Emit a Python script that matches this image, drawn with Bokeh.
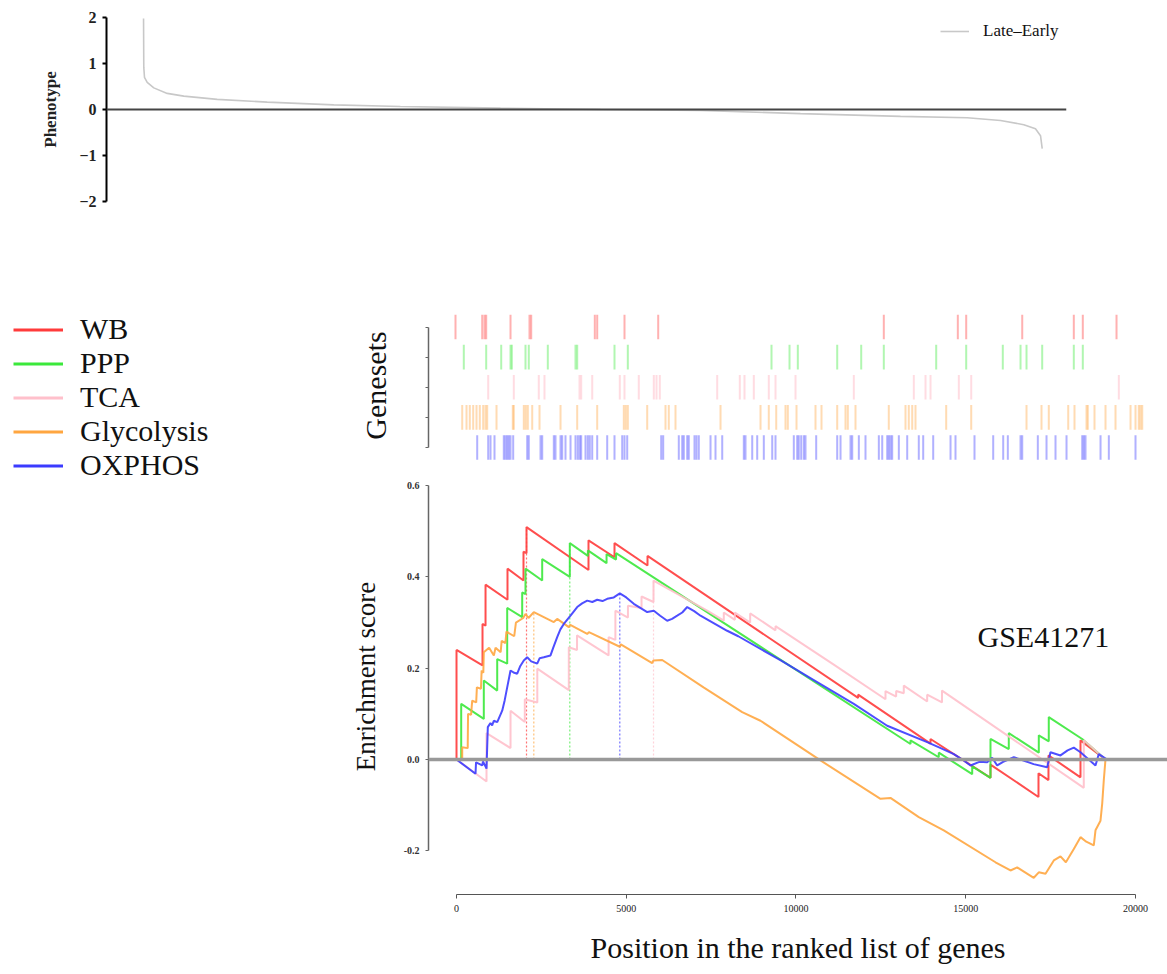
from bokeh.plotting import figure
from bokeh.models import (Range1d, FixedTicker, Span, Legend, LegendItem, Label,
                          PrintfTickFormatter)
from bokeh.layouts import column, row
from bokeh.embed import file_html
from bokeh.resources import INLINE

SERIF = "Liberation Serif"

# ---------------- data ----------------
# ranked-list phenotype (Late-Early)
pheno_rank = [1, 6, 21, 79, 219, 504, 856, 1566, 2628, 4043, 5460, 7585, 9710,
              11834, 13959, 16083, 17500, 18208, 18703, 18951, 19058, 19094]
pheno_value = [1.98, 0.92, 0.70, 0.59, 0.47, 0.35, 0.29, 0.22, 0.16, 0.10, 0.065,
               0.03, 0.0, -0.02, -0.09, -0.15, -0.18, -0.24, -0.33, -0.42, -0.57, -0.85]

set_names = ["WB", "PPP", "TCA", "Glycolysis", "OXPHOS"]
set_colors = ["#ff3b3b", "#3be83b", "#ffc0cb", "#ffa640", "#3b3bff"]

# running enrichment scores
wb_rank = [0, 0, 766, 766, 855, 855, 1502, 1502, 1973, 1973, 2062, 2062, 3888, 3888,
           4654, 4654, 5626, 5626, 11830, 11830, 13962, 13962, 15729, 15729, 17143,
           17143, 17437, 17437, 18380, 18380, 19116]
wb_es = [0, 0.240, 0.206, 0.297, 0.293, 0.383, 0.350, 0.418, 0.392, 0.455, 0.452,
         0.509, 0.415, 0.480, 0.443, 0.474, 0.425, 0.446, 0.135, 0.142, 0.035, 0.045,
         -0.040, -0.011, -0.082, -0.030, -0.045, 0.009, -0.039, 0.042, 0.0]

ppp_rank = [0, 138, 138, 804, 804, 1199, 1199, 1493, 1493, 1935, 1935, 2032, 2032,
            2524, 2524, 3337, 3337, 3870, 3870, 4420, 4420, 4700, 4700, 13373, 13373,
            14206, 14206, 15190, 15190, 15729, 15729, 16268, 16268, 17152, 17152,
            17446, 17446, 18430, 19116]
ppp_es = [0, 0, 0.122, 0.089, 0.173, 0.151, 0.220, 0.210, 0.332, 0.312, 0.366, 0.362,
          0.418, 0.392, 0.439, 0.400, 0.474, 0.446, 0.458, 0.430, 0.450, 0.438, 0.452,
          0.034, 0.042, 0.005, 0.015, -0.032, -0.015, -0.040, 0.045, 0.023, 0.058,
          0.015, 0.053, 0.040, 0.093, 0.045, 0.0]

tca_rank = [0, 884, 884, 1591, 1591, 2012, 2012, 2380, 2380, 3308, 3308, 3550, 3550,
            4480, 4480, 4680, 4680, 5050, 5050, 5450, 5450, 5803, 5803, 7384, 7873,
            7873, 8200, 8200, 8650, 8650, 9396, 9396, 11113, 12636, 12636, 12950,
            12950, 13175, 13175, 13864, 13864, 14300, 14300, 18477, 18477, 19116]
tca_es = [0, -0.048, 0.058, 0.025, 0.107, 0.082, 0.132, 0.125, 0.199, 0.152, 0.246,
          0.240, 0.272, 0.228, 0.268, 0.262, 0.326, 0.311, 0.337, 0.332, 0.357, 0.345,
          0.392, 0.326, 0.304, 0.322, 0.306, 0.322, 0.300, 0.320, 0.283, 0.292, 0.208,
          0.132, 0.150, 0.138, 0.150, 0.145, 0.162, 0.127, 0.142, 0.125, 0.151,
          -0.062, 0.042, 0.0]

gly_rank = [0, 168, 168, 330, 340, 430, 462, 580, 600, 720, 740, 790, 804, 960, 1100,
            1150, 1300, 1330, 1440, 1470, 1700, 1750, 1965, 2032, 2120, 2277, 2866,
            2966, 3308, 3350, 3850, 3900, 4810, 4840, 5764, 5800, 6059, 7277, 8415,
            8954, 10722, 12489, 12783, 13617, 14353, 15876, 16318, 16515, 17004,
            17152, 17350, 17594, 17791, 17950, 18183, 18380, 18550, 18772, 18822,
            18969, 19019, 19066, 19116]
gly_es = [0, 0, 0.027, 0.025, 0.100, 0.098, 0.129, 0.125, 0.158, 0.155, 0.195, 0.190,
          0.235, 0.245, 0.228, 0.245, 0.235, 0.260, 0.255, 0.280, 0.270, 0.300, 0.310,
          0.319, 0.310, 0.323, 0.301, 0.308, 0.290, 0.295, 0.275, 0.279, 0.247, 0.252,
          0.211, 0.217, 0.218, 0.158, 0.104, 0.085, -0.002, -0.086, -0.084, -0.126,
          -0.155, -0.225, -0.243, -0.236, -0.259, -0.247, -0.250, -0.221, -0.212,
          -0.225, -0.196, -0.170, -0.180, -0.188, -0.155, -0.134, -0.097, -0.046, 0.0]

ox_rank = [0, 560, 575, 757, 780, 884, 922, 1000, 1050, 1099, 1200, 1346, 1420, 1493,
           1591, 1700, 1788, 1880, 1982, 2082, 2200, 2377, 2450, 2571, 2769, 2850,
           2966, 3060, 3161, 3358, 3555, 3700, 3850, 4000, 4144, 4300, 4439, 4633,
           4810, 5000, 5222, 5617, 5812, 6000, 6206, 6350, 6501, 6650, 6795, 7000,
           7187, 7973, 8300, 9552, 10500, 11703, 12686, 13864, 14197, 14648, 14900,
           15140, 15400, 15632, 15779, 15926, 16100, 16416, 16700, 17000, 17399,
           17496, 17791, 18000, 18183, 18380, 18822, 18919, 19166]
ox_es = [0, -0.031, -0.006, -0.013, -0.004, -0.020, 0.071, 0.080, 0.075, 0.085, 0.082,
         0.107, 0.130, 0.158, 0.195, 0.190, 0.188, 0.205, 0.217, 0.224, 0.215, 0.210,
         0.222, 0.224, 0.228, 0.245, 0.268, 0.285, 0.297, 0.315, 0.334, 0.342, 0.348,
         0.345, 0.350, 0.347, 0.352, 0.355, 0.364, 0.355, 0.341, 0.323, 0.326, 0.315,
         0.304, 0.308, 0.315, 0.322, 0.334, 0.325, 0.315, 0.282, 0.270, 0.217, 0.175,
         0.122, 0.074, 0.038, 0.027, 0.012, 0.0, -0.013, -0.005, -0.006, 0.004,
         -0.013, -0.005, 0.005, -0.002, -0.010, -0.017, 0.016, 0.009, 0.020, 0.026,
         0.016, -0.013, 0.012, 0.0]

# positions of the gene-set members in the ranked list (geneset panel)
wb_hits = [0, 740, 803, 850, 1524, 2050, 2097, 3859, 3925, 4681, 5615, 11864, 13914,
           14146, 15698, 17127, 17376, 18310]
ppp_hits = [230, 850, 1266, 1524, 1560, 1939, 2030, 2557, 3324, 3371, 4404, 4773, 8753,
            9252, 9482, 10573, 11238, 11864, 13315, 14146, 15160, 15651, 15817, 16251,
            17127, 17376]
tca_hits = [906, 1615, 2307, 2465, 3435, 3482, 3787, 4551, 4681, 5077, 5493, 5568, 5659,
            7249, 7875, 8005, 8263, 8678, 8864, 9418, 11033, 12695, 13019, 13158, 13942,
            14285, 18374]
gly_hits = [186, 305, 396, 490, 582, 673, 767, 831, 878, 1136, 1587, 1615, 1892, 1947,
            2003, 2125, 2327, 2909, 3371, 3925, 4662, 4717, 4773, 5310, 5817, 5908, 6094,
            7341, 8449, 8678, 8884, 9141, 9205, 9446, 9972, 10138, 10573, 10803, 10867,
            11080, 12002, 12465, 12556, 12651, 12742, 13592, 14285, 15817, 16232, 16434,
            16972, 17146, 17479, 17515, 17700, 18005, 18282, 18698, 18836, 18927, 18975,
            19022]
ox_hits = [601, 906, 970, 1080, 1338, 1385, 1432, 1476, 1524, 1598, 1986, 2030, 2355,
           2402, 2723, 2770, 2909, 2955, 3047, 3186, 3324, 3388, 3443, 3482, 3601, 3665,
           3720, 3787, 3925, 4202, 4404, 4618, 4681, 4756, 5698, 5753, 6185, 6280, 6324,
           6418, 6462, 6620, 6676, 6739, 7064, 7202, 7388, 7986, 8033, 8219, 8357, 8540,
           8773, 8864, 9371, 9465, 9509, 9576, 9648, 9695, 9991, 10573, 10665, 10942,
           10989, 11172, 11357, 11726, 11820, 11958, 12002, 12050, 12096, 12280, 12512,
           12833, 12955, 13232, 13712, 13850, 14376, 14894, 15171, 15299, 15651, 15698,
           16130, 16371, 16620, 16925, 17360, 17404, 17451, 17867, 18097, 18836]

dataset_name = "GSE41271"
es_ticks = [-0.2, 0.0, 0.2, 0.4, 0.6]
rank_ticks = [0, 5000, 10000, 15000, 20000]
pheno_ticks = [-2, -1, 0, 1, 2]

es_series = [(wb_rank, wb_es), (ppp_rank, ppp_es), (tca_rank, tca_es),
             (gly_rank, gly_es), (ox_rank, ox_es)]
hit_series = [wb_hits, ppp_hits, tca_hits, gly_hits, ox_hits]


def clean(p):
    p.outline_line_color = None
    p.background_fill_color = "white"
    p.border_fill_color = "white"
    p.grid.visible = False


# ---------------- top: phenotype panel ----------------
top = figure(width=1167, height=218, x_range=Range1d(-786, 19610), y_range=Range1d(-2, 2),
             x_axis_location=None, output_backend="svg", toolbar_location=None,
             min_border_left=106, min_border_right=101, min_border_top=17, min_border_bottom=17)
clean(top)
top.add_layout(Span(location=0, dimension="width", line_color="#444444", line_width=2))
pr = top.line(pheno_rank, pheno_value, line_color="#c8c8c8", line_width=1.6)
ya = top.yaxis[0]
ya.ticker = FixedTicker(ticks=pheno_ticks)
ya.major_label_overrides = {-2: "\u22122", -1: "\u22121", 0: "0", 1: "1", 2: "2"}
ya.axis_line_color = "black"
ya.axis_line_width = 2
ya.major_tick_line_color = "black"
ya.major_tick_line_width = 2
ya.major_tick_out = 4
ya.major_tick_in = 0
ya.minor_tick_line_color = None
ya.major_label_standoff = 6
ya.major_label_text_font = SERIF
ya.major_label_text_font_size = "16px"
ya.major_label_text_font_style = "bold"
ya.major_label_text_color = "#222222"
ya.axis_label = "Phenotype"
ya.axis_label_text_font = SERIF
ya.axis_label_text_font_size = "17px"
ya.axis_label_text_font_style = "bold"
ya.axis_label_text_color = "#222222"
ya.axis_label_standoff = 16
top_leg = Legend(items=[LegendItem(label="Late\u2013Early", renderers=[pr])],
                 location=(834, 160), padding=0, margin=0, border_line_color=None,
                 background_fill_alpha=0, glyph_width=29, glyph_height=20,
                 label_standoff=14, label_text_font=SERIF, label_text_font_size="17px",
                 label_text_color="#111111")
top.add_layout(top_leg)

# ---------------- legend panel ----------------
leg = figure(width=338, height=748, x_range=Range1d(-3e5, -2e5), y_range=Range1d(-1, 1),
             x_axis_type=None, y_axis_type=None, output_backend="svg",
             toolbar_location=None, min_border=0)
clean(leg)
items = []
for name, col, (xs, ys) in zip(set_names, set_colors, es_series):
    r = leg.line(xs, ys, line_color=col, line_width=3)
    items.append(LegendItem(label=name, renderers=[r]))
leg.add_layout(Legend(items=items, location=(13, 484), padding=0, margin=0,
                      border_line_color=None, background_fill_alpha=0, spacing=0,
                      glyph_width=50, glyph_height=33, label_height=33,
                      label_standoff=17, label_text_font=SERIF,
                      label_text_font_size="30px", label_text_color="#111111"))

# ---------------- geneset panel ----------------
nrows = len(set_names)
gs = figure(width=829, height=252, x_range=Range1d(-748, 19722), y_range=Range1d(0.369, 5.747),
            x_axis_location=None, output_backend="svg", toolbar_location=None,
            min_border_left=90, min_border_right=0, min_border_top=86, min_border_bottom=4)
clean(gs)
for i, (hits, col) in enumerate(zip(hit_series, set_colors)):
    yrow = nrows - i
    gs.segment(x0=hits, y0=[yrow - 0.41] * len(hits), x1=hits, y1=[yrow + 0.41] * len(hits),
               line_color=col, line_width=2, line_alpha=0.4 if col != "#ffc0cb" else 0.55)
ga = gs.yaxis[0]
ga.ticker = FixedTicker(ticks=list(range(1, nrows + 1)))
ga.major_label_overrides = {k: "" for k in range(1, nrows + 1)}
ga.bounds = (1, nrows)
ga.axis_line_color = "#666666"
ga.axis_line_width = 1.5
ga.major_tick_line_color = "#666666"
ga.major_tick_out = 3
ga.major_tick_in = 0
ga.minor_tick_line_color = None
ga.axis_label = "Genesets"
ga.axis_label_text_font = SERIF
ga.axis_label_text_font_size = "30px"
ga.axis_label_text_font_style = "normal"
ga.axis_label_text_color = "#111111"
ga.axis_label_standoff = 34

# ---------------- enrichment panel ----------------
shared_x = Range1d(-825, 20943)
es = figure(width=829, height=412, x_range=shared_x, y_range=Range1d(-0.2693, 0.633),
            x_axis_location=None, output_backend="svg", toolbar_location=None,
            min_border_left=90, min_border_right=0, min_border_top=0, min_border_bottom=0)
clean(es)
es.add_layout(Span(location=0, dimension="width", line_color="#999999", line_width=3.5))
for (xs, ys), col in zip(es_series, set_colors):
    k = max(range(len(ys)), key=lambda j: ys[j])
    es.segment(x0=[xs[k]], y0=[0], x1=[xs[k]], y1=[ys[k]], line_color=col,
               line_width=1.2, line_dash="2 2", line_alpha=0.7)
for (xs, ys), col in zip(es_series, set_colors):
    es.line(xs, ys, line_color=col, line_width=2, line_alpha=0.9)

ey = es.yaxis[0]
ey.ticker = FixedTicker(ticks=es_ticks)
ey.formatter = PrintfTickFormatter(format="%.1f")
ey.bounds = (es_ticks[0], es_ticks[-1])
ey.axis_line_color = "#666666"
ey.axis_line_width = 1.5
ey.major_tick_line_color = "#666666"
ey.major_tick_out = 3
ey.major_tick_in = 0
ey.minor_tick_line_color = None
ey.major_label_standoff = 6
ey.major_label_text_font = SERIF
ey.major_label_text_font_size = "10px"
ey.major_label_text_font_style = "bold"
ey.major_label_text_color = "#333333"
ey.axis_label = "Enrichment score"
ey.axis_label_text_font = SERIF
ey.axis_label_text_font_size = "27px"
ey.axis_label_text_font_style = "normal"
ey.axis_label_text_color = "#111111"
ey.axis_label_standoff = 20

es.add_layout(Label(x=15346, y=0.269, text=dataset_name, text_font=SERIF,
                    text_font_size="30px", text_baseline="middle", text_color="#111111"))

# ---------------- x axis strip (rank positions) ----------------
xa_fig = figure(width=829, height=84, x_range=shared_x, y_range=Range1d(0, 1),
                y_axis_location=None, output_backend="svg", toolbar_location=None,
                min_border_left=90, min_border_right=0, min_border_top=0, min_border_bottom=69)
clean(xa_fig)
ex = xa_fig.xaxis[0]
ex.ticker = FixedTicker(ticks=rank_ticks)
ex.bounds = (rank_ticks[0], rank_ticks[-1])
ex.axis_line_color = "#555555"
ex.axis_line_width = 1.2
ex.major_tick_line_color = "#555555"
ex.major_tick_out = 4
ex.major_tick_in = 0
ex.minor_tick_line_color = None
ex.major_label_standoff = 6
ex.major_label_text_font = SERIF
ex.major_label_text_font_size = "10px"
ex.major_label_text_color = "#222222"
ex.axis_label = "Position in the ranked list of genes"
ex.axis_label_text_font = SERIF
ex.axis_label_text_font_size = "30px"
ex.axis_label_text_font_style = "normal"
ex.axis_label_text_color = "#111111"
ex.axis_label_standoff = 16

layout = column(top, row(leg, column(gs, es, xa_fig, spacing=0), spacing=0), spacing=0)

with open("out.html", "w") as f:
    f.write(file_html(layout, INLINE))
